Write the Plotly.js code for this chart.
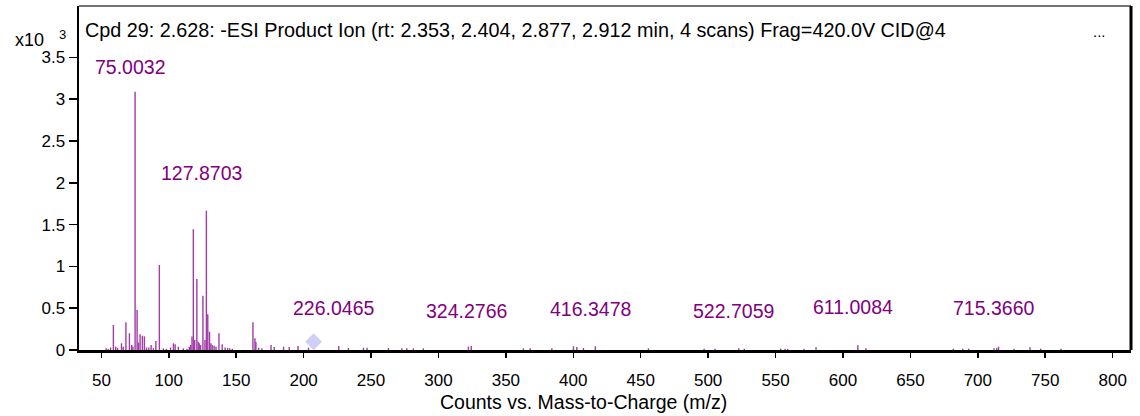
<!DOCTYPE html>
<html>
<head>
<meta charset="utf-8">
<script src="https://cdn.plot.ly/plotly-3.0.1.min.js"></script>
<style>
  html, body { margin: 0; padding: 0; background: #ffffff; }
  #chart { width: 1140px; height: 416px; }
</style>
</head>
<body>
<div id="chart"></div>
<script>
// Product ion spectrum: centroid sticks (m/z, counts)
const peakMz = [
  53.5, 55.0, 56.8, 58.9, 60.6, 62.0, 64.9, 66.2, 68.2, 70.8, 72.5, 73.4,
  75.0032, 76.5, 77.5, 78.7, 80.4, 81.9, 83.5, 85.2, 86.9, 88.5, 90.4, 93.0,
  96.0, 98.2, 101.3, 103.4, 104.7, 107.1, 110.8, 113.5, 115.2, 116.2, 117.2,
  118.2, 119.2, 120.8, 121.8, 122.6, 123.6, 125.3, 126.8, 127.8703, 128.9,
  130.2, 131.2, 132.2, 133.6, 135.0, 137.2, 139.6, 141.8, 143.6, 145.2, 147.1,
  162.4, 163.9, 164.6, 166.6, 169.0, 175.8, 178.2, 185.1, 189.3, 195.8, 203.6,
  226.0465, 233.2, 244.4, 247.0, 262.9, 272.8, 276.5, 281.4, 288.8, 322.2,
  324.2766, 363.0, 368.0, 384.1, 400.1, 402.6, 407.5, 416.3478, 455.7, 497.0,
  505.1, 522.7059, 526.8, 553.8, 557.0, 559.0, 571.1, 580.0, 611.0084, 617.0,
  681.8, 688.8, 693.2, 712.0, 714.0, 715.3660, 726.8, 738.7, 746.6, 761.7
];
const peakCounts = [
  20, 12, 30, 299, 40, 25, 80, 40, 331, 200, 60, 40,
  3090, 478, 90, 187, 171, 163, 30, 30, 60, 20, 108, 1017,
  20, 15, 30, 80, 68, 40, 20, 15, 40, 60, 160,
  1444, 120, 849, 100, 80, 60, 650, 120, 1667, 427,
  219, 80, 60, 50, 40, 200, 68, 30, 25, 20, 15,
  331, 140, 96, 28, 20, 60, 36, 40, 36, 48, 28,
  48, 24, 28, 28, 24, 20, 20, 20, 20, 40,
  48, 20, 20, 20, 44, 36, 24, 44, 20, 16,
  16, 20, 16, 16, 16, 16, 16, 32, 56, 20,
  16, 16, 16, 20, 24, 40, 16, 32, 16, 16
];

// Annotated ions
const labelMz = [75.0032, 127.8703, 226.0465, 324.2766, 416.3478, 522.7059, 611.0084, 715.3660];

// Precursor marker
const precursorMz = [207.4];
const precursorCounts = [100];

// Axis ticks
const xTicks = [50, 100, 150, 200, 250, 300, 350, 400, 450, 500, 550, 600, 650, 700, 750, 800];
const yTickVals = [0, 500, 1000, 1500, 2000, 2500, 3000, 3500];
const yTickText = ['0', '0.5', '1', '1.5', '2', '2.5', '3', '3.5'];

const titleText = 'Cpd 29: 2.628: -ESI Product Ion (rt: 2.353, 2.404, 2.877, 2.912 min, 4 scans) Frag=420.0V CID@4';
const xAxisTitle = 'Counts vs. Mass-to-Charge (m/z)';

// Label placement (count level of each label's centre)
const labelLevels = [3385, 2117, 499, 463, 494, 466, 514, 502];

// Stick segments: each peak becomes a vertical line from 0 to its height
const stickX = [], stickY = [];
peakMz.forEach((m, i) => {
  stickX.push(m, m, null);
  stickY.push(0, peakCounts[i], null);
});

const FONT = 'Liberation Sans, Arial, Helvetica, sans-serif';
const PURPLE = '#800080';

const traces = [
  {
    type: 'scatter', mode: 'lines',
    x: stickX, y: stickY,
    line: { color: '#a23aa8', width: 1.4 },
    hoverinfo: 'skip', showlegend: false
  },
  {
    type: 'scatter', mode: 'markers',
    x: precursorMz, y: precursorCounts,
    marker: { symbol: 'diamond', size: 13, color: '#cfcff7' },
    hoverinfo: 'skip', showlegend: false
  }
];

const annotations = labelMz.map((m, i) => ({
  x: m, y: labelLevels[i], xref: 'x', yref: 'y',
  text: m.toFixed(4), showarrow: false,
  xanchor: 'center', yanchor: 'middle', xshift: -5,
  font: { family: FONT, size: 19.5, color: PURPLE }
}));

annotations.push(
  {
    xref: 'paper', yref: 'paper', x: 0.0038, y: 0.930,
    xanchor: 'left', yanchor: 'middle', showarrow: false,
    text: titleText, font: { family: FONT, size: 19.8, color: '#000000' }
  },
  {
    xref: 'paper', yref: 'paper', x: 0.970, y: 0.926,
    xanchor: 'center', yanchor: 'middle', showarrow: false,
    text: '...', font: { family: FONT, size: 15, color: '#000000' }
  },
  {
    xref: 'paper', yref: 'paper', x: -0.0475, y: 0.901,
    xanchor: 'center', yanchor: 'middle', showarrow: false,
    text: 'x10', font: { family: FONT, size: 18, color: '#000000' }
  },
  {
    xref: 'paper', yref: 'paper', x: -0.016, y: 0.918,
    xanchor: 'center', yanchor: 'middle', showarrow: false,
    text: '3', font: { family: FONT, size: 13, color: '#000000' }
  },
  {
    // x-axis caption, centred a little left of the plot middle
    xref: 'paper', yref: 'paper', x: 0.48, y: -0.151,
    xanchor: 'center', yanchor: 'middle', showarrow: false,
    text: xAxisTitle, font: { family: FONT, size: 19.5, color: '#000000' }
  }
);

const layout = {
  width: 1140, height: 416,
  margin: { l: 79, r: 9, t: 6, b: 66 },
  paper_bgcolor: '#ffffff', plot_bgcolor: '#ffffff',
  font: { family: FONT, color: '#000000' },
  showlegend: false,
  xaxis: {
    range: [33.4, 813.6],
    tickvals: xTicks, ticktext: xTicks.map(String),
    ticks: 'outside', ticklen: 5, tickwidth: 1.5, tickcolor: '#000000',
    ticklabelstandoff: 8,
    showline: true, linecolor: '#000000', linewidth: 3,
    showgrid: false, zeroline: false,
    tickfont: { family: FONT, size: 17, color: '#000000' }
  },
  yaxis: {
    range: [0, 4115],
    tickvals: yTickVals, ticktext: yTickText,
    ticks: 'outside', ticklen: 8, tickwidth: 1.5, tickcolor: '#000000',
    showline: true, linecolor: '#000000', linewidth: 2.5,
    showgrid: false, zeroline: false,
    tickfont: { family: FONT, size: 17, color: '#000000' }
  },
  shapes: [
    { type: 'line', xref: 'paper', yref: 'paper', x0: 0, x1: 1, y0: 1, y1: 1,
      line: { color: '#444444', width: 1.5 } },
    { type: 'line', xref: 'paper', yref: 'paper', x0: 1, x1: 1, y0: 0, y1: 1,
      line: { color: '#000000', width: 3 } }
  ],
  annotations: annotations
};

Plotly.newPlot('chart', traces, layout, { staticPlot: true, displayModeBar: false });
</script>
</body>
</html>
